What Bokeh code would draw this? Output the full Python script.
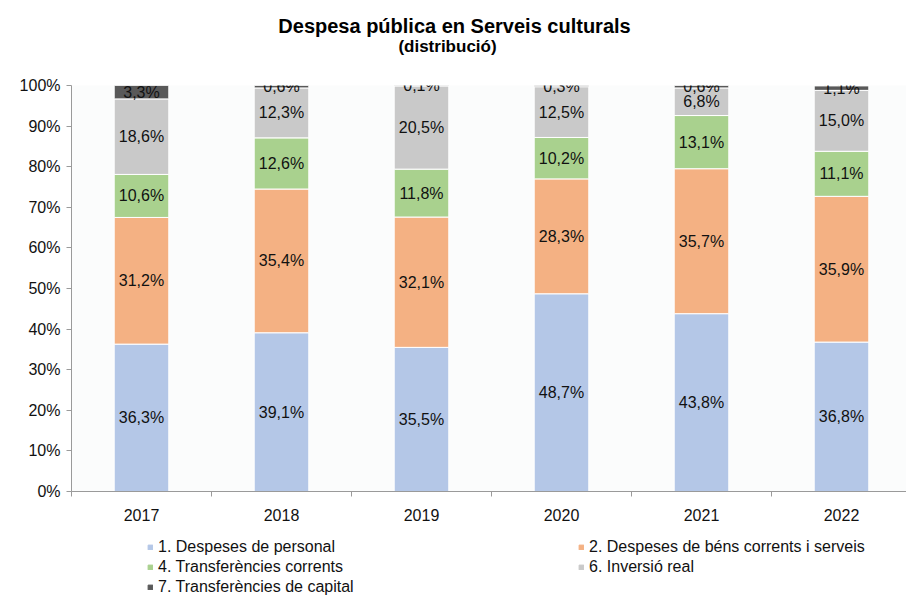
from bokeh.plotting import figure
from bokeh.models import Range1d, FixedTicker, Legend, LegendItem, Label, ColumnDataSource
from bokeh.layouts import column
from bokeh.core.properties import value
from bokeh.embed import file_html
from bokeh.resources import INLINE

years = ["2017", "2018", "2019", "2020", "2021", "2022"]
personal = [36.3, 39.1, 35.5, 48.7, 43.8, 36.8]
bens = [31.2, 35.4, 32.1, 28.3, 35.7, 35.9]
transf_corrents = [10.6, 12.6, 11.8, 10.2, 13.1, 11.1]
inversio = [18.6, 12.3, 20.5, 12.5, 6.8, 15.0]
transf_capital = [3.3, 0.6, 0.1, 0.3, 0.6, 1.1]

series_names = ["1. Despeses de personal", "2. Despeses de béns corrents i serveis",
                "4. Transferències corrents", "6. Inversió real", "7. Transferències de capital"]
series_vals = [personal, bens, transf_corrents, inversio, transf_capital]
colors = ["#b4c7e7", "#f4b183", "#a9d18e", "#c9c9c9", "#595959"]
y_ticks = [0, 10, 20, 30, 40, 50, 60, 70, 80, 90, 100]
title_text = "Despesa pública en Serveis culturals"
subtitle_text = "(distribució)"

FONT = "Liberation Sans"
ncat = len(years)
xc = [i + 0.5 for i in range(ncat)]

W = 906
ML, MR = 71, 0
frame_w = W - ML - MR
x_end = frame_w / 140.0

src = {"x": xc}
keys = []
for i, vals in enumerate(series_vals):
    k = f"s{i}"
    src[k] = [v for v in vals]
    keys.append(k)
source = ColumnDataSource(src)

# ---- title figure ----
TH = 70
tf = figure(width=W, height=TH, output_backend="svg", toolbar_location=None,
            x_range=Range1d(ML, W), y_range=Range1d(TH, 0),
            min_border_left=ML, min_border_right=0, min_border_top=0, min_border_bottom=0)
tf.axis.visible = False
tf.grid.visible = False
tf.outline_line_color = None
tf.background_fill_color = "white"
tf.border_fill_color = "white"
tf.add_layout(Label(x=454, y=25, text=title_text, text_font=FONT, text_font_size="20px",
                    text_font_style="bold", text_align="center", text_baseline="middle",
                    text_color="#000000"))
tf.add_layout(Label(x=447, y=46, text=subtitle_text, text_font=FONT, text_font_size="17px",
                    text_font_style="bold", text_align="center", text_baseline="middle",
                    text_color="#000000"))

# ---- main chart ----
H = 463
MT, MB = 15, 42
p = figure(width=W, height=H, output_backend="svg", toolbar_location=None,
           x_range=Range1d(0, x_end), y_range=Range1d(0, 100),
           min_border_left=ML, min_border_right=MR, min_border_top=MT, min_border_bottom=MB)
p.background_fill_color = "#fbfcfc"
p.border_fill_color = "white"
p.outline_line_color = None
p.xgrid.visible = False
p.ygrid.visible = False

rends = p.vbar_stack(keys, x="x", width=0.39, source=source, color=colors,
                     line_color="white", line_width=1)

lx, ly, lt = [], [], []
for j in range(ncat):
    cum = 0.0
    for vals in series_vals:
        v = vals[j]
        lx.append(xc[j]); ly.append(cum + v / 2.0)
        lt.append(f"{v:.1f}%".replace(".", ","))
        cum += v
p.text(x=lx, y=ly, text=lt, text_align="center", text_baseline="middle",
       text_font=value(FONT), text_font_size="16px", text_color="#111111")

p.yaxis.ticker = FixedTicker(ticks=y_ticks)
p.yaxis.major_label_overrides = {t: f"{t}%" for t in y_ticks}
p.yaxis.major_label_text_font = FONT
p.yaxis.major_label_text_font_size = "16px"
p.yaxis.major_label_text_color = "#111111"
p.yaxis.axis_line_color = "#9a9a9a"
p.yaxis.major_tick_line_color = "#9a9a9a"
p.yaxis.major_tick_out = 5
p.yaxis.major_tick_in = 0
p.yaxis.minor_tick_line_color = None
p.yaxis.major_label_standoff = 6

p.xaxis.ticker = FixedTicker(ticks=xc, minor_ticks=list(range(ncat + 1)))
p.xaxis.major_label_overrides = {x: y for x, y in zip(xc, years)}
p.xaxis.major_label_text_font = FONT
p.xaxis.major_label_text_font_size = "16px"
p.xaxis.major_label_text_color = "#111111"
p.xaxis.axis_line_color = "#9a9a9a"
p.xaxis.major_tick_line_color = None
p.xaxis.major_tick_out = 0
p.xaxis.major_tick_in = 0
p.xaxis.minor_tick_line_color = "#9a9a9a"
p.xaxis.minor_tick_out = 5
p.xaxis.minor_tick_in = 0
p.xaxis.major_label_standoff = 12

# ---- legend figure ----
LH = 64
lf = figure(width=W, height=LH, output_backend="svg", toolbar_location=None,
            x_range=Range1d(-20, -19), y_range=Range1d(0, 1),
            min_border_left=ML, min_border_right=0, min_border_top=0, min_border_bottom=0)
lf.axis.visible = False
lf.grid.visible = False
lf.outline_line_color = None
lf.background_fill_color = "white"
lf.border_fill_color = "white"
leg_rends = lf.vbar_stack(keys, x="x", width=0.39, source=source, color=colors)

legend_style = dict(orientation="vertical", glyph_width=6, glyph_height=6, label_standoff=5,
                    label_height=15, spacing=2, padding=0, margin=0,
                    label_text_font=FONT, label_text_font_size="16px", label_text_color="#111111",
                    background_fill_alpha=0, border_line_color=None)
legA = Legend(items=[LegendItem(label=series_names[i], renderers=[leg_rends[i]]) for i in (0, 2, 4)],
              location=(76, 1), **legend_style)
legB = Legend(items=[LegendItem(label=series_names[i], renderers=[leg_rends[i]]) for i in (1, 3)],
              location=(507, 21), **legend_style)
lf.add_layout(legA, "center")
lf.add_layout(legB, "center")

layout = column(tf, p, lf, spacing=0)
open("out.html", "w").write(file_html(layout, INLINE))
